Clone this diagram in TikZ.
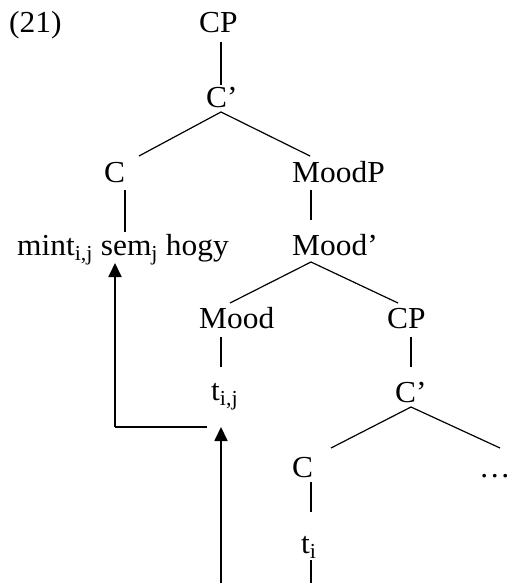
\documentclass[tikz,border=0pt]{standalone}
\usepackage{fontspec}
\setmainfont[FakeStretch=1.03]{Liberation Serif}
\usetikzlibrary{arrows.meta}
\begin{document}
\begin{tikzpicture}[x=1pt,y=-1pt,
  lbl/.style={anchor=base west,inner sep=0pt,font=\fontsize{30.5}{36}\selectfont},
  branch/.style={line width=1.2pt},
  mvarrow/.style={line width=1.8pt,-{Triangle[length=14pt,width=13pt]}},
  mvline/.style={line width=1.8pt}]
\useasboundingbox (0,0) rectangle (510,583);
% labels
\node[lbl] (ex) at (9,33) {(21)};
\node[lbl] (cp1) at (199,33) {CP};
\node[lbl] (cbar1) at (206,108) {C’};
\node[lbl] (c1) at (104,182) {C};
\node[lbl] (moodp) at (292,182) {MoodP};
\node[lbl] (mint) at (17,255) {mint\textsubscript{i,j} sem\textsubscript{j} hogy};
\node[lbl] (moodbar) at (292,255) {Mood’};
\node[lbl] (mood) at (199,328) {Mood};
\node[lbl] (cp2) at (387,328) {CP};
\node[lbl] (tij) at (211,400) {t\textsubscript{i,j}};
\node[lbl] (cbar2) at (395,402) {C’};
\node[lbl] (c2) at (292,477) {C};
\node[lbl] (dots) at (479,477) {…};
\node[lbl] (ti) at (301,553) {t\textsubscript{i}};
% coordinates
\coordinate (a1) at (221,42);  \coordinate (a2) at (221,85);
\coordinate (b0) at (221,112); \coordinate (b1) at (139,156); \coordinate (b2) at (310,156);
\coordinate (d1) at (125,190); \coordinate (d2) at (125,232);
\coordinate (e1) at (311,190); \coordinate (e2) at (311,220);
\coordinate (f0) at (311,262); \coordinate (f1) at (230,303); \coordinate (f2) at (398,303);
\coordinate (g1) at (221,337); \coordinate (g2) at (221,367);
\coordinate (h1) at (411,337); \coordinate (h2) at (411,367);
\coordinate (k0) at (411,407); \coordinate (k1) at (331,448); \coordinate (k2) at (500,448);
\coordinate (m1) at (311,482); \coordinate (m2) at (311,512);
\coordinate (n1) at (311,560); \coordinate (n2) at (311,583);
\coordinate (p1) at (221,583); \coordinate (p2) at (221,427);
\coordinate (q1) at (207,427); \coordinate (q2) at (115,427); \coordinate (q3) at (115,263);
% branches
\draw[branch] (a1) -- (a2);
\draw[branch] (b1) -- (b0) -- (b2);
\draw[branch] (d1) -- (d2);
\draw[branch] (e1) -- (e2);
\draw[branch] (f1) -- (f0) -- (f2);
\draw[branch] (g1) -- (g2);
\draw[branch] (h1) -- (h2);
\draw[branch] (k1) -- (k0) -- (k2);
\draw[branch] (m1) -- (m2);
\draw[branch] (n1) -- (n2);
% movement arrows
\draw[mvarrow] (p1) -- (p2);
\draw[mvline] (q1) -- (q2);
\draw[mvarrow] (q2) -- (q3);
\end{tikzpicture}
\end{document}
